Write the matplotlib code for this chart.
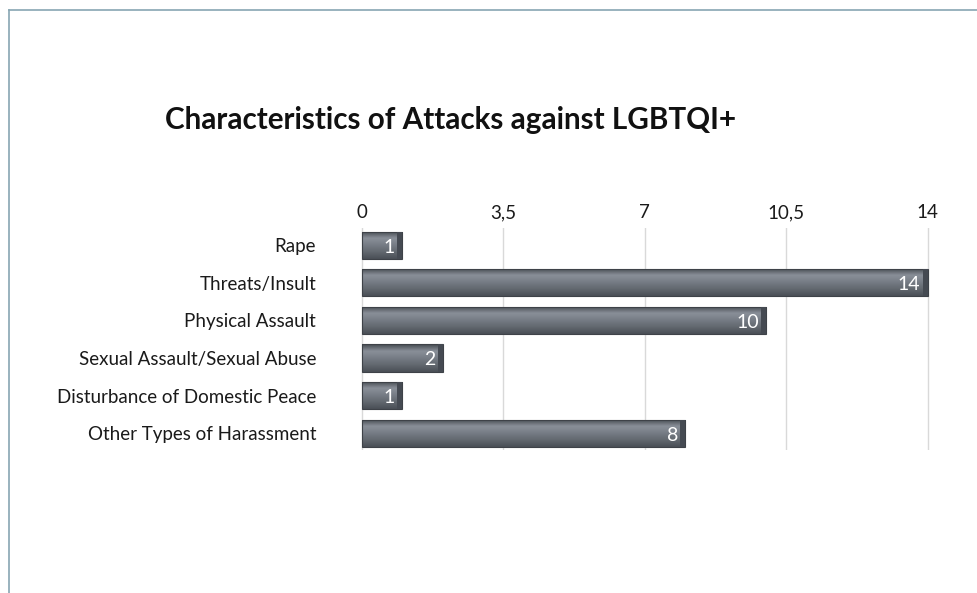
import matplotlib.pyplot as plt
import numpy as np
from matplotlib.patches import Rectangle
from matplotlib.lines import Line2D
from matplotlib.colors import LinearSegmentedColormap

plt.rcParams['font.family'] = ['Lato', 'DejaVu Sans']

# data
categories = ["Rape", "Threats/Insult", "Physical Assault",
              "Sexual Assault/Sexual Abuse", "Disturbance of Domestic Peace",
              "Other Types of Harassment"]
values = [1, 14, 10, 2, 1, 8]
ticks = [0, 3.5, 7, 10.5, 14]
tick_labels = ["0", "3,5", "7", "10,5", "14"]

fig = plt.figure(figsize=(9.78, 5.93), dpi=100)
ax = fig.add_axes([0.329, 0.241, 0.663, 0.374])

# vertical gradient for the bars (top light, bottom dark)
bar_cmap = LinearSegmentedColormap.from_list(
    "bar", ["#44494f", "#8a9099", "#767c85", "#62686f", "#4a4f56"])
grad = np.linspace(0, 1, 64).reshape(-1, 1)

bar_h = 0.72
y = np.arange(len(categories))
for yi, v in zip(y, values):
    rect = Rectangle((0, yi - bar_h / 2), v, bar_h, facecolor="none",
                     edgecolor="#3e4248", linewidth=0.8, zorder=3)
    ax.add_patch(rect)
    im = ax.imshow(grad, cmap=bar_cmap, aspect="auto",
                   extent=(0, v, yi + bar_h / 2, yi - bar_h / 2),
                   zorder=2, interpolation="bicubic")
    im.set_clip_path(rect)
    # darker end cap for a bit of depth
    ax.add_patch(Rectangle((v - 0.12, yi - bar_h / 2), 0.12, bar_h,
                           facecolor="#454a52", edgecolor="none", zorder=3))
    ax.text(v - 0.18, yi + 0.05, str(v), ha="right", va="center",
            color="white", fontsize=14, zorder=4)

ax.set_xlim(-0.99, 15.05)
ax.set_ylim(5.45, -0.45)
ax.set_xticks(ticks)
ax.set_xticklabels(tick_labels)
ax.set_yticks(y)
ax.set_yticklabels(categories)
ax.xaxis.tick_top()
ax.tick_params(axis="x", length=0, pad=5, labelsize=13.5, labelcolor="#1a1a1a")
ax.tick_params(axis="y", length=0, pad=4, labelsize=13.5, labelcolor="#1a1a1a")
ax.grid(axis="x", color="#d9d9d9", linewidth=1, zorder=0)
ax.set_axisbelow(True)
for s in ax.spines.values():
    s.set_visible(False)

fig.text(0.169, 0.797, "Characteristics of Attacks against LGBTQI+",
         fontsize=21.3, fontweight="bold", color="#111111", va="center")

# outer frame (top and left edges visible)
frame_color = "#87a6b3"
fig.add_artist(Line2D([0.0092, 1.0], [0.983, 0.983], color=frame_color, lw=1.2))
fig.add_artist(Line2D([0.0092, 0.0092], [0.0, 0.983], color=frame_color, lw=1.2))

fig.savefig("out.png", dpi=100)
